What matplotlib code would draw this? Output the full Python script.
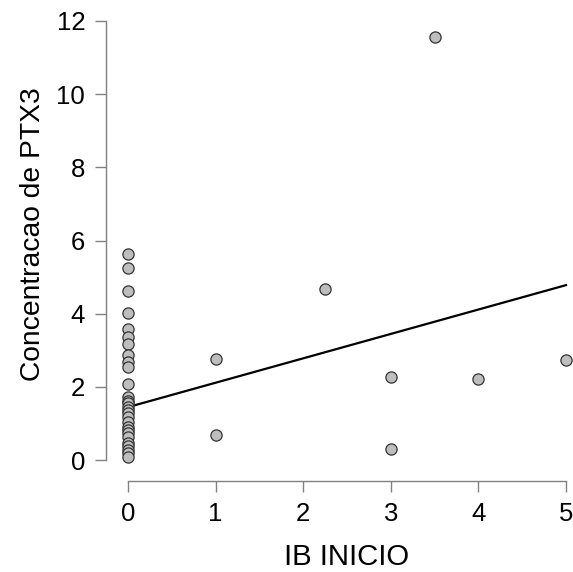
import matplotlib
matplotlib.use("Agg")
import matplotlib.pyplot as plt
import matplotlib.transforms as mtrans
import numpy as np

plt.rcParams['font.family'] = ['Liberation Sans', 'DejaVu Sans']

# Data
ptx3_at_zero = [5.63, 5.24, 4.63, 4.03, 3.57, 3.37, 3.17, 2.87, 2.69, 2.55,
                2.09, 1.73, 1.62, 1.55, 1.45, 1.37, 1.28, 1.18, 1.05, 0.91,
                0.82, 0.73, 0.62, 0.46, 0.38, 0.27, 0.18, 0.09]
ib_other = [1, 1, 2.25, 3, 3, 3.5, 4, 5]
ptx3_other = [2.76, 0.68, 4.67, 2.27, 0.30, 11.56, 2.21, 2.73]
ib_inicio = [0]*len(ptx3_at_zero) + ib_other
ptx3 = ptx3_at_zero + ptx3_other
fit_intercept = 1.445
fit_slope = 0.667
fit_x = [0, 5]
x_ticks = [0, 1, 2, 3, 4, 5]
y_ticks = [0, 2, 4, 6, 8, 10, 12]

W, H = 573, 572
fig = plt.figure(figsize=(W/100, H/100), dpi=100)
# axes spans pixels x 106..573, y 0..481
ax = fig.add_axes([106/W, 1 - 481/H, (573-106)/W, 481/H])
ax.set_xlim(-0.251, 5.08)
ax.set_ylim(-0.574, 12.574)

ax.scatter(ib_inicio, ptx3, s=65, facecolor='#BEBEBE', edgecolor='#333333',
           linewidth=0.9, zorder=3)
fy = [fit_intercept + fit_slope*v for v in fit_x]
ax.plot(fit_x, fy, color='black', linewidth=1.6, zorder=2)

for s in ['top', 'right']:
    ax.spines[s].set_visible(False)
for s in ['left', 'bottom']:
    ax.spines[s].set_color('#808080')
    ax.spines[s].set_linewidth(1.0)
ax.spines['left'].set_bounds(0, 12)
ax.spines['bottom'].set_bounds(0, 5)
ax.set_xticks(x_ticks)
ax.set_yticks(y_ticks)
ax.tick_params(axis='both', direction='out', length=8, width=1.0,
               color='#808080', labelsize=18.5, labelcolor='black', pad=7)
ax.set_xlabel('IB INICIO', fontsize=21.2)
ax.set_ylabel('Concentracao de PTX3', fontsize=20.3)
ax.xaxis.set_label_coords(2.5, -0.128,
                          transform=mtrans.blended_transform_factory(ax.transData, ax.transAxes))
ax.yaxis.set_label_coords(-0.128, 6.17,
                          transform=mtrans.blended_transform_factory(ax.transAxes, ax.transData))

fig.savefig('out.png', dpi=100)
